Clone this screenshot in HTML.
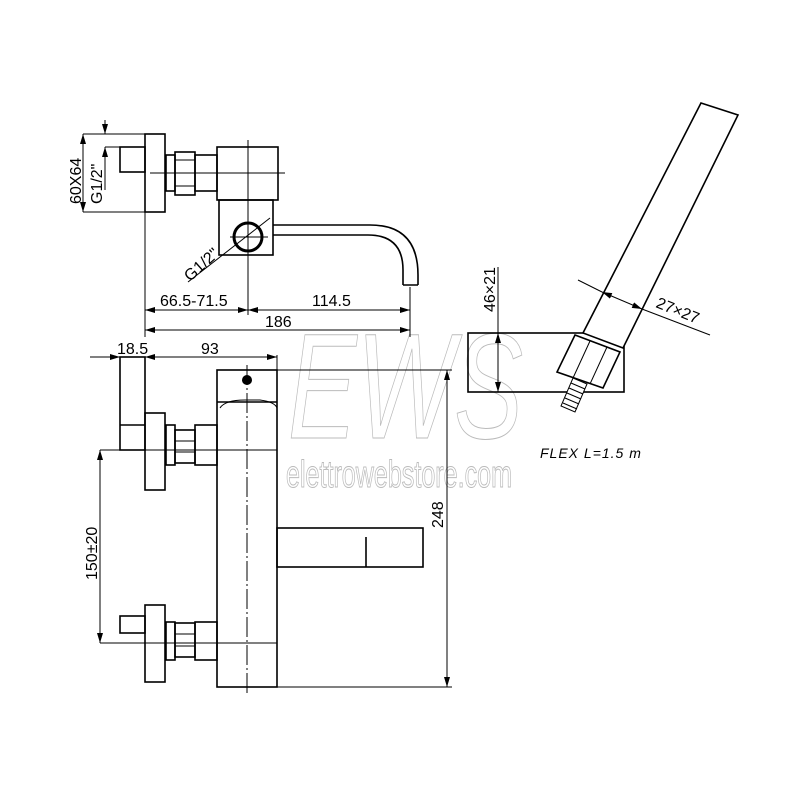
<!DOCTYPE html>
<html><head><meta charset="utf-8"><style>body{margin:0;background:#fff}svg{display:block}</style></head><body>
<svg width="800" height="800" viewBox="0 0 800 800" xmlns="http://www.w3.org/2000/svg" font-family="Liberation Sans, sans-serif">
<defs>
<marker id="a" viewBox="0 0 10 6" refX="10" refY="3" markerWidth="10" markerHeight="6" orient="auto-start-reverse" markerUnits="userSpaceOnUse"><path d="M0,0L10,3L0,6z" fill="#000"/></marker>
</defs>
<!-- watermark -->
<g fill="none" stroke="#bbb" stroke-width="1">
<text x="288" y="438" font-size="150" font-style="italic" transform="scale(1,1)" textLength="235" lengthAdjust="spacingAndGlyphs">EWS</text>
<text x="286" y="487" font-size="38" textLength="226" lengthAdjust="spacingAndGlyphs">elettrowebstore.com</text>
</g>
<g fill="none" stroke="#000" stroke-width="1.6">
<!-- TOP VIEW -->
<rect x="145" y="134" width="20" height="78"/>
<rect x="120" y="147" width="25" height="25"/>
<line x1="105" y1="147" x2="120" y2="147" stroke-width="1"/>
<rect x="166" y="155" width="9" height="36"/>
<rect x="175" y="152" width="20" height="43"/>
<line x1="175" y1="160" x2="195" y2="160" stroke-width="1"/><line x1="175" y1="173" x2="195" y2="173" stroke-width="1"/><line x1="175" y1="186" x2="195" y2="186" stroke-width="1"/>
<rect x="195" y="155" width="22" height="36"/>
<rect x="217" y="147" width="61" height="53"/>
<rect x="219" y="200" width="54" height="55"/>
<circle cx="248" cy="237" r="14" stroke-width="3"/>
<path d="M273 225 H370 Q418 225 418 275 V285 M273 235 H368 Q403 235 403 270 V285 M403 285 H418"/>
</g>
<g stroke="#000" stroke-width="1" fill="none">
<line x1="248" y1="140" x2="248" y2="315"/>
<line x1="150" y1="173" x2="285" y2="173"/>
<line x1="230" y1="237" x2="268" y2="237"/>
<line x1="188" y1="282" x2="270" y2="218"/>
<line x1="83" y1="134" x2="145" y2="134"/><line x1="83" y1="212" x2="145" y2="212"/>
<line x1="83" y1="134" x2="83" y2="212" marker-start="url(#a)" marker-end="url(#a)"/>
<line x1="105" y1="120" x2="105" y2="134" marker-end="url(#a)"/>
<line x1="105" y1="190" x2="105" y2="147" marker-end="url(#a)"/>
<line x1="145" y1="212" x2="145" y2="337"/>
<line x1="410" y1="287" x2="410" y2="337"/>
<line x1="145" y1="310" x2="248" y2="310" marker-start="url(#a)" marker-end="url(#a)"/>
<line x1="248" y1="310" x2="410" y2="310" marker-start="url(#a)" marker-end="url(#a)"/>
<line x1="145" y1="330" x2="410" y2="330" marker-start="url(#a)" marker-end="url(#a)"/>
</g>
<g font-size="16" fill="#000">
<text x="160" y="306">66.5-71.5</text>
<text x="312" y="306">114.5</text>
<text x="265" y="327">186</text>
<text transform="translate(81,204) rotate(-90)">60X64</text>
<text transform="translate(102,204) rotate(-90)">G1/2"</text>
<text transform="translate(190,282) rotate(-42)">G1/2"</text>
</g>
<!-- FRONT VIEW -->
<g fill="none" stroke="#000" stroke-width="1.6">
<rect x="120" y="357" width="25" height="93"/>
<line x1="120" y1="425" x2="145" y2="425"/>
<rect x="145" y="413" width="20" height="77"/>
<rect x="166" y="425" width="9" height="40"/>
<rect x="175" y="430" width="20" height="33"/>
<rect x="195" y="425" width="22" height="40"/>
<rect x="217" y="370" width="60" height="317"/>
<line x1="217" y1="402" x2="277" y2="402"/>
<path d="M220 408 Q225 400 245 400 H260 Q275 402 277 408" stroke-width="1"/>
<rect x="120" y="616" width="25" height="17"/>
<rect x="145" y="605" width="20" height="77"/>
<rect x="166" y="622" width="9" height="38"/>
<rect x="175" y="623" width="20" height="34"/>
<rect x="195" y="622" width="22" height="38"/>
<rect x="277" y="528" width="146" height="39"/>
<line x1="366" y1="537" x2="366" y2="567"/>
</g>
<circle cx="247" cy="380" r="5" fill="#000"/>
<g stroke="#000" stroke-width="1" fill="none">
<line x1="175" y1="441" x2="195" y2="441"/><line x1="175" y1="452" x2="195" y2="452"/>
<line x1="175" y1="634" x2="195" y2="634"/><line x1="175" y1="646" x2="195" y2="646"/>
<line x1="247" y1="365" x2="247" y2="695" stroke-dasharray="20 3 2 3"/>
<line x1="100" y1="450" x2="277" y2="450"/>
<line x1="100" y1="643" x2="277" y2="643"/>
<line x1="100" y1="450" x2="100" y2="643" marker-start="url(#a)" marker-end="url(#a)"/>
<line x1="277" y1="355" x2="277" y2="370"/>
<line x1="90" y1="357" x2="120" y2="357" marker-end="url(#a)"/>
<line x1="120" y1="357" x2="145" y2="357"/>
<line x1="145" y1="357" x2="277" y2="357" marker-start="url(#a)" marker-end="url(#a)"/>
<line x1="277" y1="370" x2="452" y2="370"/>
<line x1="217" y1="687" x2="452" y2="687"/>
<line x1="447" y1="370" x2="447" y2="687" marker-start="url(#a)" marker-end="url(#a)"/>
</g>
<g font-size="16" fill="#000">
<text x="117" y="354">18.5</text>
<text x="201" y="354">93</text>
<text transform="translate(97,580) rotate(-90)">150±20</text>
<text transform="translate(443,528) rotate(-90)">248</text>
</g>
<!-- HAND SHOWER -->
<g fill="none" stroke="#000" stroke-width="1.6">
<rect x="468" y="333" width="156" height="59"/>
<polygon points="701,103 738,115 623,348 583,333" fill="#fff"/>
<polygon points="575,335 620,352 603,388 557,372" fill="#fff"/>
<line x1="590" y1="341" x2="573" y2="378" stroke-width="1"/>
<line x1="607" y1="347" x2="590" y2="384" stroke-width="1"/>
</g>
<g stroke="#000" stroke-width="1" fill="none">
<path d="M573 378 L587 384 L575 412 L561 406 Z" fill="#fff"/>
<line x1="571" y1="383" x2="585" y2="389"/><line x1="569" y1="388" x2="583" y2="394"/><line x1="567" y1="393" x2="581" y2="399"/><line x1="565" y1="398" x2="579" y2="404"/><line x1="563" y1="403" x2="577" y2="409"/>
<line x1="498" y1="267" x2="498" y2="333"/>
<line x1="498" y1="333" x2="498" y2="392" marker-start="url(#a)" marker-end="url(#a)"/>
<line x1="578" y1="280" x2="602" y2="292"/>
<line x1="602" y1="292" x2="642" y2="309" marker-start="url(#a)" marker-end="url(#a)"/>
<line x1="642" y1="309" x2="710" y2="335"/>
</g>
<g font-size="16" fill="#000">
<text transform="translate(495,312) rotate(-90)">46×21</text>
<text transform="translate(655,307) rotate(22)">27×27</text>
<text x="540" y="458" font-size="14" font-style="italic" letter-spacing="1">FLEX  L=1.5  m</text>
</g>
</svg>
</body></html>
